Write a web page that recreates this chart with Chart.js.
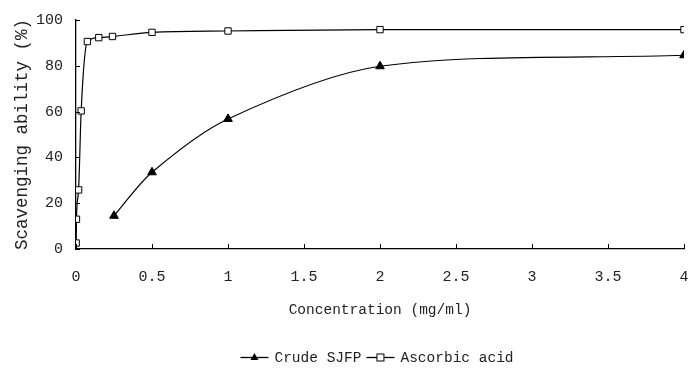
<!DOCTYPE html>
<html>
<head>
<meta charset="utf-8">
<script src="https://cdn.jsdelivr.net/npm/chart.js@4"></script>
<style>
  html, body { margin: 0; padding: 0; background: #fff; }
  #wrap { width: 691px; height: 369px; }
</style>
</head>
<body>
<div id="wrap"><canvas id="chart" width="691" height="369"></canvas></div>
<script>
// values
const crudeX = [0.25, 0.5, 1, 2, 4];
const crudeY = [14.5, 33.5, 56.8, 79.8, 84.6];
const ascorbicX = [0.001, 0.003, 0.017, 0.034, 0.075, 0.15, 0.24, 0.5, 1, 2, 4];
const ascorbicY = [2.6, 13, 25.8, 60.3, 90.6, 92.3, 92.8, 94.6, 95.2, 95.8, 95.8];
const xTicks = [0, 0.5, 1, 1.5, 2, 2.5, 3, 3.5, 4];
const yTicks = [0, 20, 40, 60, 80, 100];
const seriesNames = ['Crude SJFP', 'Ascorbic acid'];

const fontFam = '"Liberation Mono", "DejaVu Sans Mono", monospace';
const ink = '#222';

// small inward tick marks like the original
const innerTicks = {
    id: 'innerTicks',
    afterDatasetsDraw(chart) {
        const { ctx, chartArea, scales } = chart;
        ctx.save();
        ctx.strokeStyle = '#000';
        ctx.lineWidth = 1;
        yTicks.forEach(v => {
            const y = Math.round(scales.y.getPixelForValue(v)) + 0.5;
            ctx.beginPath(); ctx.moveTo(chartArea.left, y); ctx.lineTo(chartArea.left + 4, y); ctx.stroke();
        });
        xTicks.forEach(v => {
            const x = Math.round(scales.x.getPixelForValue(v)) + 0.5;
            ctx.beginPath(); ctx.moveTo(x, chartArea.bottom); ctx.lineTo(x, chartArea.bottom - 5); ctx.stroke();
        });
        ctx.restore();
    }
};

// legend: line + marker + text, centred under the plot
const lineLegend = {
    id: 'lineLegend',
    afterDraw(chart) {
        const ctx = chart.ctx;
        const y = 357;
        ctx.save();
        ctx.font = '14.5px ' + fontFam;
        const sym = 28, gap = 6, between = 5;
        const widths = seriesNames.map(t => ctx.measureText(t).width);
        const total = widths.reduce((a, w) => a + sym + gap + w, 0) + between;
        let x = 377 - total / 2;
        seriesNames.forEach((name, i) => {
            ctx.strokeStyle = '#000';
            ctx.lineWidth = 1.3;
            ctx.beginPath(); ctx.moveTo(x, y + 0.5); ctx.lineTo(x + sym, y + 0.5); ctx.stroke();
            const cx = x + sym / 2;
            if (i === 0) {
                ctx.fillStyle = '#000';
                ctx.beginPath(); ctx.moveTo(cx, y - 4); ctx.lineTo(cx + 4, y + 3); ctx.lineTo(cx - 4, y + 3); ctx.closePath(); ctx.fill();
            } else {
                ctx.fillStyle = '#fff';
                ctx.lineWidth = 1;
                ctx.fillRect(cx - 3.5, y - 3, 7, 7);
                ctx.strokeRect(cx - 3.5, y - 3, 7, 7);
            }
            ctx.fillStyle = ink;
            ctx.textBaseline = 'middle';
            ctx.fillText(name, x + sym + gap, y + 1);
            x += sym + gap + widths[i] + between;
        });
        ctx.restore();
    }
};

new Chart(document.getElementById('chart'), {
    type: 'line',
    data: {
        datasets: [{
            label: seriesNames[0],
            data: crudeX.map((x, i) => ({ x: x, y: crudeY[i] })),
            borderColor: '#000',
            backgroundColor: '#000',
            borderWidth: 1.2,
            pointStyle: 'triangle',
            pointRadius: 5,
            pointBorderWidth: 1,
            tension: 0.3,
            fill: false
        }, {
            label: seriesNames[1],
            data: ascorbicX.map((x, i) => ({ x: x, y: ascorbicY[i] })),
            borderColor: '#000',
            backgroundColor: '#fff',
            borderWidth: 1.2,
            pointStyle: 'rect',
            pointRadius: 4.5,
            pointBorderWidth: 1,
            cubicInterpolationMode: 'monotone',
            fill: false
        }]
    },
    plugins: [innerTicks, lineLegend],
    options: {
        responsive: false,
        animation: false,
        layout: {
            padding: { left: 0, right: 7, top: 20, bottom: 44 }
        },
        plugins: {
            legend: { display: false },
            tooltip: { enabled: false }
        },
        scales: {
            x: {
                type: 'linear',
                min: 0,
                max: 4,
                afterFit: function(scale) {
                    scale.height = 76;
                    scale.paddingLeft = 0;
                    scale.paddingRight = 0;
                },
                afterBuildTicks: function(scale) { scale.ticks = xTicks.map(v => ({ value: v })); },
                grid: { display: false, drawTicks: false },
                border: { display: true, color: '#000', width: 1.3 },
                ticks: {
                    padding: 19,
                    color: ink,
                    maxRotation: 0,
                    font: { family: fontFam, size: 15 },
                    callback: function(value) { return String(value); }
                },
                title: {
                    display: true,
                    text: 'Concentration (mg/ml)',
                    color: ink,
                    font: { family: fontFam, size: 14.5 },
                    padding: { top: 0, bottom: 6 }
                }
            },
            y: {
                min: 0,
                max: 100,
                afterFit: function(scale) {
                    scale.width = 76;
                    scale.paddingTop = 0;
                    scale.paddingBottom = 0;
                },
                afterBuildTicks: function(scale) { scale.ticks = yTicks.map(v => ({ value: v })); },
                grid: { display: false, drawTicks: false },
                border: { display: true, color: '#000', width: 1.3 },
                ticks: {
                    padding: 13,
                    color: ink,
                    font: { family: fontFam, size: 15 }
                },
                title: {
                    display: true,
                    text: 'Scavenging ability (%)',
                    color: ink,
                    font: { family: fontFam, size: 17.5 },
                    padding: { top: 12, bottom: 0 }
                }
            }
        }
    }
});
</script>
</body>
</html>
